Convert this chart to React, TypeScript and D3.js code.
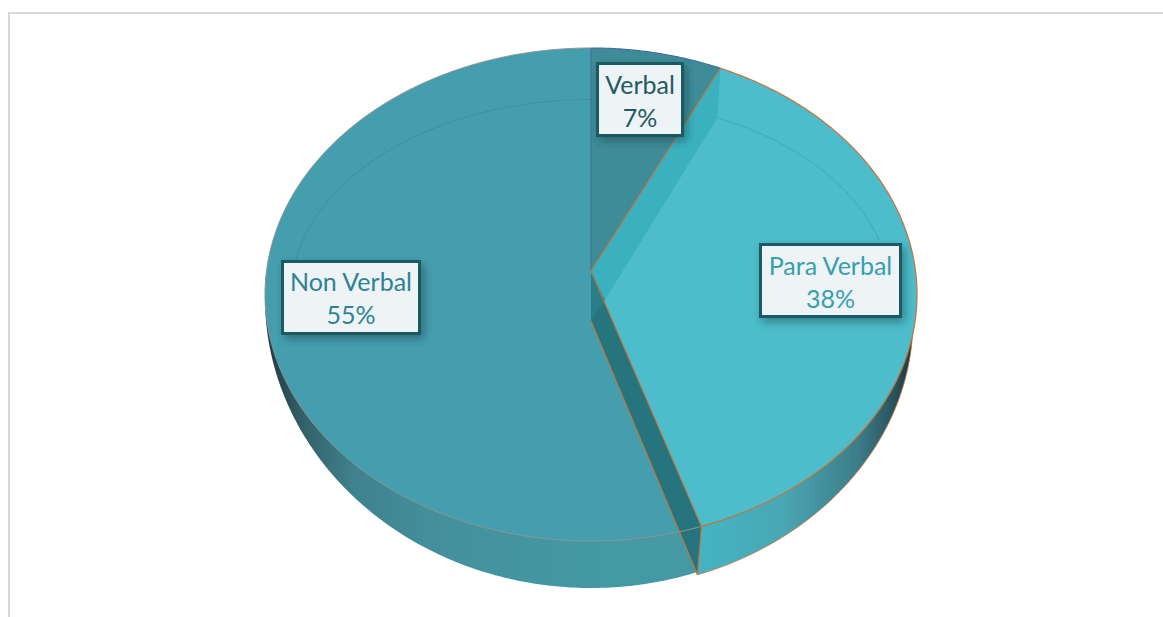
import React from "react";
import * as d3 from "d3";

const categories = ["Verbal", "Para Verbal", "Non Verbal"];
const values = [6.5, 38, 55.5];
const percentLabels = ["7%", "38%", "55%"];

const W = 1163, H = 617;
const CX = 591, CY = 294.5, RX = 326, RY = 246.5;
const FONT = "Lato, 'Open Sans', sans-serif";

const deg = Math.PI / 180;
type Ell = { rx: number; ry: number; cy: number };
const TOP: Ell = { rx: RX, ry: RY, cy: CY };
const RING: Ell = { rx: 300, ry: 195, cy: CY };
const BOTTOM_NV: Ell = { rx: 326, ry: 290, cy: 298 };
const BOTTOM_PV: Ell = { rx: 322, ry: 270, cy: 320 };

const pt = (e: Ell, a: number): [number, number] => [CX + e.rx * Math.sin(a), e.cy - e.ry * Math.cos(a)];
const arcPts = (e: Ell, a0: number, a1: number): [number, number][] => {
  const n = Math.max(2, Math.ceil((Math.abs(a1 - a0) / deg) * 2));
  return d3.range(n + 1).map((i) => pt(e, a0 + ((a1 - a0) * i) / n));
};
const line = d3.line<[number, number]>().x((d) => d[0]).y((d) => d[1]);
const path = (p: [number, number][], close = false) => (line(p) ?? "") + (close ? "Z" : "");

const arcs = d3.pie<number>().sort(null).value((d) => d)(values);
const [vArc, pArc, nArc] = arcs;

const APEX_TOP: [number, number] = [CX, 271];
const APEX_BOTTOM: [number, number] = [CX, 321];
const APEX_MID: [number, number] = [605, 300];

const ORANGE = "#C4743A";
const GREY = "#8C9496";

const labels = [
  { i: 0, x: 597.5, y: 63.5, w: 85, h: 72, color: "#1F5A63", base: 94 },
  { i: 1, x: 760.5, y: 244.5, w: 140, h: 72, color: "#379FAE", base: 275 },
  { i: 2, x: 282.5, y: 261.5, w: 137, h: 72, color: "#2C8492", base: 291 },
];

export default function App() {
  const rimV = pt(TOP, vArc.endAngle);
  const rimP = pt(TOP, pArc.endAngle);
  const cornerAngle = pArc.endAngle + 0.5 * deg;
  const botP = pt(BOTTOM_PV, cornerAngle);
  const innerCorner = pt(RING, vArc.endAngle + 1.5 * deg);
  return (
    <svg width={W} height={H} viewBox={`0 0 ${W} ${H}`} style={{ position: "absolute", left: 0, top: 0, display: "block" }}>
      <defs>
        <linearGradient id="nvWall" gradientUnits="userSpaceOnUse" x1="272" x2="600" y1="0" y2="0">
          <stop offset="0" stopColor="#23414A" />
          <stop offset="0.1" stopColor="#33626B" />
          <stop offset="0.25" stopColor="#3F828D" />
          <stop offset="0.5" stopColor="#43909C" />
          <stop offset="1" stopColor="#4499A5" />
        </linearGradient>
        <linearGradient id="pvWall" gradientUnits="userSpaceOnUse" x1="700" x2="912" y1="0" y2="0">
          <stop offset="0" stopColor="#44B4C2" />
          <stop offset="0.4" stopColor="#4AA6B3" />
          <stop offset="0.75" stopColor="#3C7C88" />
          <stop offset="0.92" stopColor="#27525C" />
          <stop offset="1" stopColor="#1C3B44" />
        </linearGradient>
        <filter id="shadow" x="-30%" y="-30%" width="160%" height="170%">
          <feDropShadow dx="3" dy="4" stdDeviation="4.5" floodColor="#123038" floodOpacity="0.45" />
        </filter>
      </defs>

      {/* chart frame */}
      <path d={`M9 ${H}V13H${W}`} fill="none" stroke="#D9D9D9" strokeWidth={2} />

      {/* Non Verbal side wall and face */}
      <path d={path([APEX_BOTTOM, botP, ...arcPts(BOTTOM_NV, cornerAngle, 272 * deg)], true)} fill="url(#nvWall)" />
      <path d={path([APEX_BOTTOM, ...arcPts(TOP, nArc.startAngle, nArc.endAngle)], true)} fill="#459EAE" />

      {/* Para Verbal side wall */}
      <path
        d={path([rimP, ...arcPts(BOTTOM_PV, cornerAngle, 88 * deg)], true)}
        fill="url(#pvWall)"
        stroke={ORANGE}
        strokeWidth={0.8}
      />

      {/* Verbal face */}
      <path d={path([APEX_TOP, ...arcPts(TOP, vArc.startAngle, vArc.endAngle)], true)} fill="#3F8C99" />

      {/* Para Verbal face and the inner facet */}
      <path d={path([APEX_TOP, ...arcPts(TOP, pArc.startAngle, pArc.endAngle)], true)} fill="#4DBDCB" />
      <path d={path([APEX_TOP, rimV, innerCorner, APEX_MID], true)} fill="#3BB1BF" />

      {/* inner wall between Para Verbal and Non Verbal */}
      <path d={path([APEX_TOP, rimP, botP, APEX_BOTTOM], true)} fill="#26757E" />
      <path d={path([APEX_TOP, APEX_MID, APEX_BOTTOM], true)} fill="#2B7D88" />

      {/* faint inner rings */}
      <path d={path(arcPts(RING, pArc.startAngle + 1.5 * deg, 74 * deg))} fill="none" stroke="#3FAAB8" strokeWidth={1} />
      <path d={path(arcPts(RING, 279 * deg, 360 * deg))} fill="none" stroke="#3C919F" strokeWidth={1} />

      {/* rims and edges */}
      <path d={path(arcPts(TOP, nArc.startAngle, nArc.endAngle))} fill="none" stroke={GREY} strokeWidth={1} />
      <path d={path(arcPts(TOP, vArc.startAngle, vArc.endAngle))} fill="none" stroke="#3F6E9E" strokeWidth={1.2} />
      <path d={path(arcPts(TOP, pArc.startAngle, pArc.endAngle))} fill="none" stroke={ORANGE} strokeWidth={1.2} />
      <path d={path([[CX, 48], APEX_TOP])} fill="none" stroke="#3F6E9E" strokeWidth={1} />
      <path d={path([rimV, APEX_TOP, rimP, botP, APEX_BOTTOM])} fill="none" stroke={ORANGE} strokeWidth={1.1} />

      {/* data labels */}
      {labels.map((l) => (
        <g key={categories[l.i]}>
          <rect
            x={l.x}
            y={l.y}
            width={l.w}
            height={l.h}
            fill="#EEF3F6"
            stroke="#1F5A63"
            strokeWidth={3}
            filter="url(#shadow)"
          />
          <text x={l.x + l.w / 2} y={l.base} textAnchor="middle" fontFamily={FONT} fontSize={25} fill={l.color}>
            {categories[l.i]}
          </text>
          <text x={l.x + l.w / 2} y={l.base + 33} textAnchor="middle" fontFamily={FONT} fontSize={25} fill={l.color}>
            {percentLabels[l.i]}
          </text>
        </g>
      ))}
    </svg>
  );
}
